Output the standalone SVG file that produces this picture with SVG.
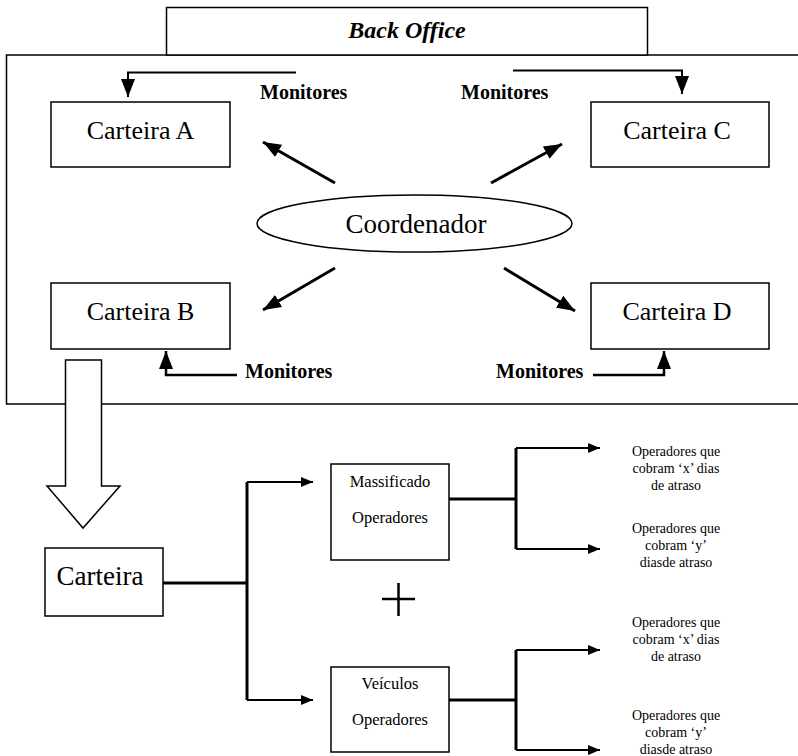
<svg xmlns="http://www.w3.org/2000/svg" width="798" height="756" viewBox="0 0 798 756" font-family="'Liberation Serif', 'DejaVu Serif', serif">
<style>
  .box { fill: #fff; stroke: #000; stroke-width: 1.5; }
  .lbl { font-family: 'Liberation Serif', 'DejaVu Serif', serif; fill: #000; text-anchor: middle; }
  .big { font-size: 26px; }
  .mon { font-family: 'Liberation Serif', 'DejaVu Serif', serif; font-size: 20px; font-weight: bold; fill: #000; }
  .mid { font-size: 16.5px; }
  .sm { font-size: 14px; }
  .ln { fill: none; stroke: #000; }
</style>
<defs>
  <marker id="ah" markerUnits="userSpaceOnUse" markerWidth="18" markerHeight="14" refX="18" refY="7" orient="auto">
    <path d="M0,0 L18,7 L0,14 z" fill="#000"/>
  </marker>
  <marker id="as" markerUnits="userSpaceOnUse" markerWidth="12" markerHeight="10" refX="12" refY="5" orient="auto">
    <path d="M0,0 L12,5 L0,10 z" fill="#000"/>
  </marker>
</defs>
<rect width="798" height="756" fill="#fff"/>

<g id="frame">
  <rect x="6.5" y="55" width="800" height="349" fill="none" stroke="#000" stroke-width="1.5"/>
</g>
<g id="backoffice">
  <rect class="box" x="166.5" y="7.5" width="481" height="47.5"/>
  <text class="lbl" x="407" y="38" font-size="24" font-weight="bold" font-style="italic">Back Office</text>
</g>

<g id="connectors">
  <path class="ln" stroke-width="2" d="M296,72.5 H128 V97" marker-end="url(#ah)"/>
  <path class="ln" stroke-width="2" d="M513,70.5 H682 V94" marker-end="url(#ah)"/>
  <path class="ln" stroke-width="2.5" d="M237,375 H166 V351" marker-end="url(#ah)"/>
  <path class="ln" stroke-width="2.5" d="M593,375 H664 V351" marker-end="url(#ah)"/>
  <line class="ln" stroke-width="3" x1="335" y1="183" x2="263" y2="142" marker-end="url(#ah)"/>
  <line class="ln" stroke-width="3" x1="491" y1="183" x2="562" y2="144" marker-end="url(#ah)"/>
  <line class="ln" stroke-width="3" x1="335" y1="268" x2="263" y2="310" marker-end="url(#ah)"/>
  <line class="ln" stroke-width="3" x1="504" y1="268" x2="575" y2="311" marker-end="url(#ah)"/>
  <polygon points="65.5,360 101.5,360 101.5,486 120,486 83,528 47,486 65.5,486" fill="#fff" stroke="#000" stroke-width="1.5"/>
  <path class="ln" stroke-width="3" d="M163,583 H247"/>
  <path class="ln" stroke-width="3" d="M247,482 V700"/>
  <path class="ln" stroke-width="2" d="M247,482 H313" marker-end="url(#as)"/>
  <path class="ln" stroke-width="2" d="M247,700 H313" marker-end="url(#as)"/>
  <path class="ln" stroke-width="3" d="M449,499 H516"/>
  <path class="ln" stroke-width="3" d="M516,448 V549"/>
  <path class="ln" stroke-width="2" d="M516,448 H600" marker-end="url(#as)"/>
  <path class="ln" stroke-width="2" d="M516,549 H600" marker-end="url(#as)"/>
  <path class="ln" stroke-width="3" d="M449,700 H516"/>
  <path class="ln" stroke-width="3" d="M516,650 V750"/>
  <path class="ln" stroke-width="2" d="M516,650 H600" marker-end="url(#as)"/>
  <path class="ln" stroke-width="2" d="M516,750 H600" marker-end="url(#as)"/>
</g>

<g id="monitores-labels">
  <text class="mon" x="260" y="99">Monitores</text>
  <text class="mon" x="461" y="99">Monitores</text>
  <text class="mon" x="245" y="378">Monitores</text>
  <text class="mon" x="496" y="378">Monitores</text>
</g>

<g id="carteira-a">
  <rect class="box" x="51" y="102" width="179" height="65"/>
  <text class="lbl big" x="140.5" y="139">Carteira A</text>
</g>
<g id="carteira-c">
  <rect class="box" x="591" y="102" width="178" height="65"/>
  <text class="lbl big" x="677" y="139">Carteira C</text>
</g>
<g id="coordenador">
  <ellipse cx="414.5" cy="223.5" rx="157.5" ry="28.5" fill="#fff" stroke="#000" stroke-width="1.5"/>
  <text class="lbl" x="416" y="233" font-size="27">Coordenador</text>
</g>
<g id="carteira-b">
  <rect class="box" x="51" y="283" width="179" height="66"/>
  <text class="lbl big" x="140.5" y="320">Carteira B</text>
</g>
<g id="carteira-d">
  <rect class="box" x="591" y="283" width="178" height="66"/>
  <text class="lbl big" x="677" y="320">Carteira D</text>
</g>

<g id="carteira">
  <rect class="box" x="45" y="548" width="118" height="68"/>
  <text class="lbl" x="100" y="585" font-size="27">Carteira</text>
</g>
<g id="massificado">
  <rect class="box" x="331" y="464" width="118" height="96"/>
  <text class="lbl mid" x="390" y="487">Massificado</text>
  <text class="lbl mid" x="390" y="523">Operadores</text>
</g>
<g id="plus">
  <path d="M382,599 H415 M398.5,583 V616" stroke="#000" stroke-width="2.5" fill="none"/>
</g>
<g id="veiculos">
  <rect class="box" x="331" y="667" width="118" height="85"/>
  <text class="lbl mid" x="390" y="689">Veículos</text>
  <text class="lbl mid" x="390" y="725">Operadores</text>
</g>

<g id="op-mx">
  <text class="lbl sm" x="676" y="456">Operadores que</text>
  <text class="lbl sm" x="676" y="473">cobram ‘x’ dias</text>
  <text class="lbl sm" x="676" y="490">de atraso</text>
</g>
<g id="op-my">
  <text class="lbl sm" x="676" y="533">Operadores que</text>
  <text class="lbl sm" x="676" y="550">cobram ‘y’</text>
  <text class="lbl sm" x="676" y="567">diasde atraso</text>
</g>
<g id="op-vx">
  <text class="lbl sm" x="676" y="627">Operadores que</text>
  <text class="lbl sm" x="676" y="644">cobram ‘x’ dias</text>
  <text class="lbl sm" x="676" y="661">de atraso</text>
</g>
<g id="op-vy">
  <text class="lbl sm" x="676" y="720">Operadores que</text>
  <text class="lbl sm" x="676" y="737">cobram ‘y’</text>
  <text class="lbl sm" x="676" y="754">diasde atraso</text>
</g>
</svg>
